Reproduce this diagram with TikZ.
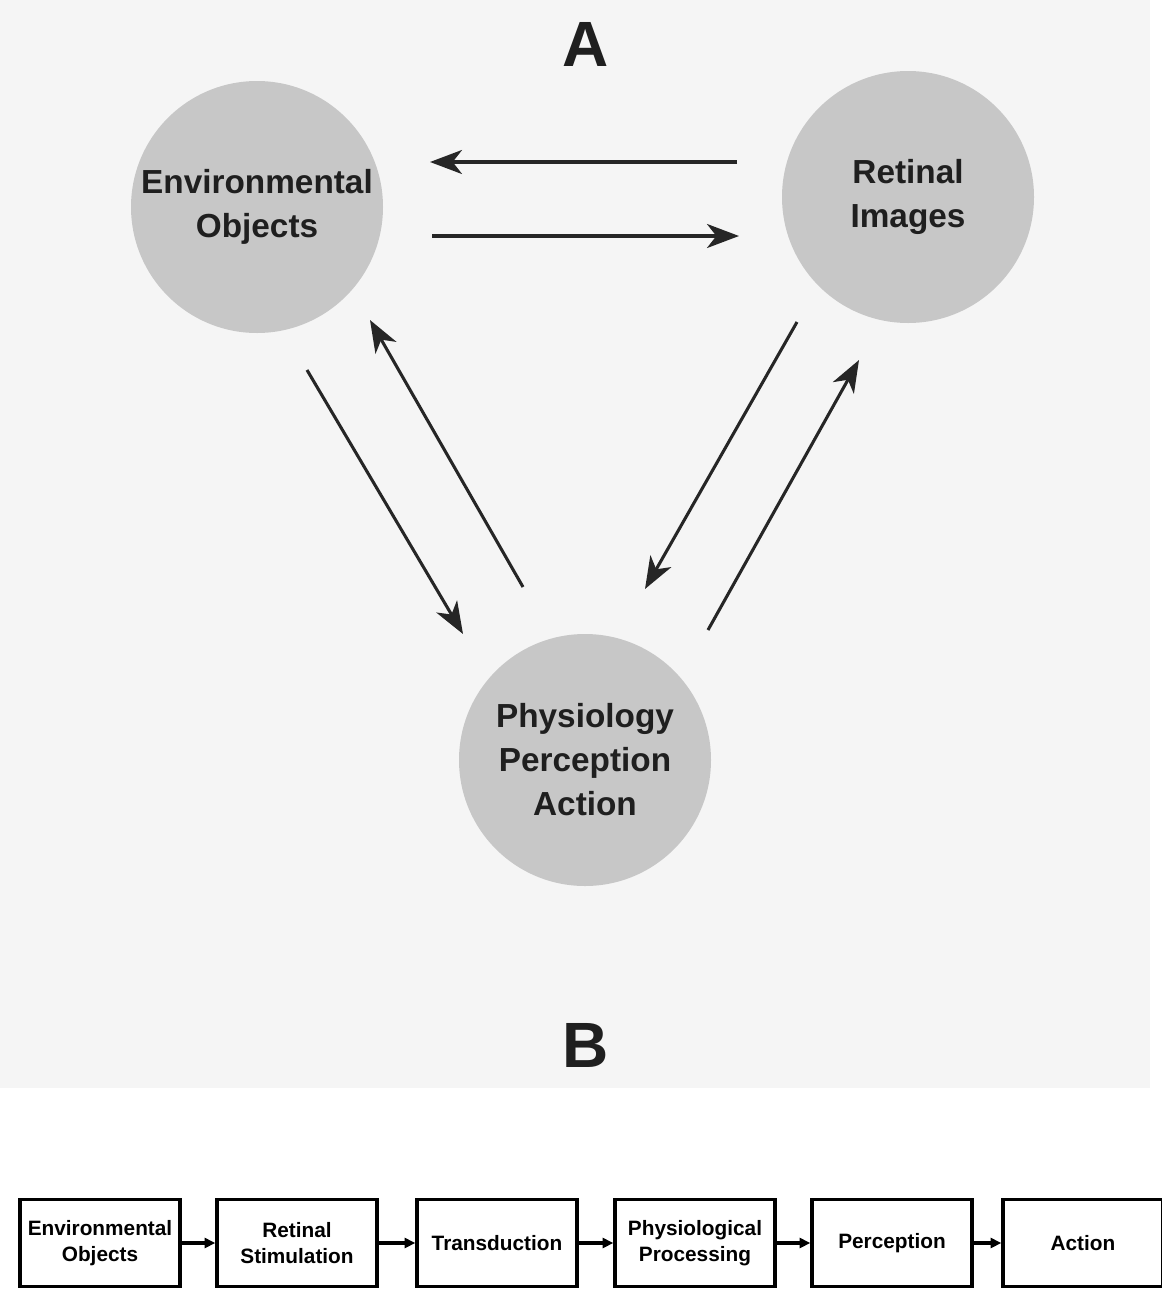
\documentclass[tikz,border=0pt]{standalone}
\usepackage{fontspec}
\setmainfont{Liberation Sans}
\usetikzlibrary{arrows.meta}
\begin{document}
\begin{tikzpicture}[x=0.75pt,y=-0.75pt,
  blob/.style={circle,fill=black!22,minimum size=189pt,inner sep=0pt,align=center,
    text=black!88,font=\bfseries\fontsize{25}{33}\selectfont},
  bigarrow/.style={line width=2.3pt,draw=black!85,-{Stealth[length=24pt,width=18pt,inset=7pt]}},
  stagebox/.style={draw,line width=2.6pt,minimum width=120pt,minimum height=65pt,inner sep=0pt,
    align=center,font=\bfseries\fontsize{15.6}{19.5}\selectfont},
  smallarrow/.style={line width=2.8pt,-{Triangle[length=8pt,width=7.5pt]}},
  letter/.style={font=\bfseries\fontsize{48}{48}\selectfont,text=black!88}]
\useasboundingbox (0,0) rectangle (1162,1289);
\fill[black!4] (0,0) rectangle (1150,1088);

\node[letter] (A) at (586,44) {A};
\node[letter] (B) at (586,1045) {B};

\node[blob] (env) at (257,207) {Environmental\\Objects};
\node[blob] (ret) at (908,197) {Retinal\\Images};
\node[blob] (phy) at (585,760) {Physiology\\Perception\\Action};

\coordinate (r1) at (737,162); \coordinate (e1) at (430,162);
\coordinate (e2) at (432,236); \coordinate (r2) at (739,236);
\coordinate (e3) at (307,370); \coordinate (p3) at (463,634);
\coordinate (p4) at (523,587); \coordinate (e4) at (370,320);
\coordinate (r5) at (797,322); \coordinate (p5) at (645,589);
\coordinate (p6) at (708,630); \coordinate (r6) at (859,360);

\draw[bigarrow] (r1) -- (e1);
\draw[bigarrow] (e2) -- (r2);
\draw[bigarrow] (e3) -- (p3);
\draw[bigarrow] (p4) -- (e4);
\draw[bigarrow] (r5) -- (p5);
\draw[bigarrow] (p6) -- (r6);

\node[stagebox] (b1) at (100,1243) {Environmental\\Objects};
\node[stagebox] (b2) at (297,1243) {Retinal\\Stimulation};
\node[stagebox] (b3) at (497,1243) {Transduction};
\node[stagebox] (b4) at (695,1243) {Physiological\\Processing};
\node[stagebox] (b5) at (892,1243) {Perception};
\node[stagebox] (b6) at (1083,1243) {Action};

\draw[smallarrow] (b1) -- (b2);
\draw[smallarrow] (b2) -- (b3);
\draw[smallarrow] (b3) -- (b4);
\draw[smallarrow] (b4) -- (b5);
\draw[smallarrow] (b5) -- (b6);
\end{tikzpicture}
\end{document}
